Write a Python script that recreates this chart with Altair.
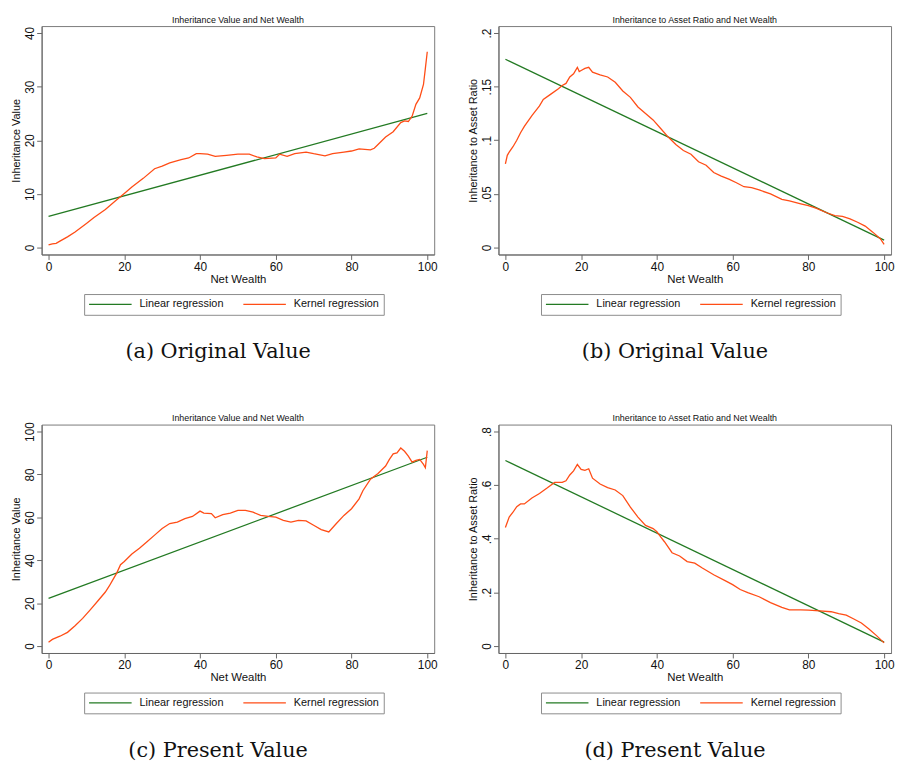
import altair as alt
import pandas as pd

# ---------------- data ----------------
# (a) Original value: inheritance value vs net wealth
kern_a_x = [0, 1, 2, 3, 5, 7, 10, 12, 15, 18, 20, 22, 25, 28, 30, 32, 35, 37, 39, 40,
            42, 44, 47, 50, 53, 55, 57, 60, 61, 63, 65, 68, 70, 73, 75, 78, 80, 82, 85, 86,
            87, 89, 91, 93, 94, 95, 96, 97, 98, 99, 99.5, 100]
kern_a_y = [0.5, 0.7, 0.8, 1.2, 2.0, 2.9, 4.5, 5.6, 7.1, 8.9, 10.1, 11.3, 12.9, 14.7, 15.2, 15.8, 16.4, 16.7, 17.5, 17.5,
            17.4, 17.0, 17.2, 17.4, 17.4, 16.9, 16.6, 16.7, 17.4, 17.0, 17.5, 17.8, 17.5, 17.1, 17.5, 17.8, 18.0, 18.4, 18.2, 18.5,
            19.2, 20.6, 21.6, 23.3, 23.6, 23.5, 24.5, 26.7, 27.9, 30.4, 33.4, 36.5]
lin_a_y = [5.8, 25.0]

# (b) Original value: inheritance to asset ratio vs net wealth
kern_b_x = [0, 0.5, 1, 2, 3, 4, 5, 7, 9, 10, 12, 14, 15, 16, 17, 18, 19, 19.5, 20, 21,
            22, 23, 25, 27, 29, 31, 33, 35, 37, 39, 41, 43, 45, 47, 49, 51, 53, 55, 57, 59,
            61, 63, 65, 67, 70, 73, 75, 78, 80, 82, 85, 87, 89, 91, 93, 95, 97, 99, 100]
kern_b_y = [0.078, 0.086, 0.089, 0.094, 0.100, 0.107, 0.113, 0.123, 0.132, 0.138, 0.143, 0.148, 0.151, 0.153, 0.159, 0.162, 0.168, 0.164, 0.165, 0.167,
            0.168, 0.1635, 0.161, 0.159, 0.154, 0.146, 0.140, 0.131, 0.125, 0.119, 0.111, 0.103, 0.096, 0.0905, 0.087, 0.080, 0.0767, 0.070, 0.0666, 0.0638,
            0.0604, 0.0567, 0.0558, 0.0537, 0.050, 0.045, 0.0436, 0.0408, 0.039, 0.0368, 0.0322, 0.0298, 0.0291, 0.0267, 0.0236, 0.020, 0.0144, 0.0083, 0.003]
lin_b_y = [0.1755, 0.007]

# (c) Present value: inheritance value vs net wealth
kern_c_x = [0, 1, 3, 5, 7, 9, 11, 13, 15, 16, 17, 18, 19, 20, 22, 24, 26, 28, 30, 32,
            34, 36, 38, 40, 41, 43, 44, 46, 48, 50, 52, 54, 56, 58, 60, 62, 64, 66, 68, 70,
            72, 74, 76, 78, 80, 82, 83, 85, 87, 89, 90, 91, 92, 93, 94, 95, 96, 97, 98, 99, 99.5, 100]
kern_c_y = [1.8, 3.1, 4.6, 6.4, 9.5, 12.9, 16.9, 21.0, 25.2, 27.9, 31.0, 34.0, 37.9, 39.4, 42.9, 45.6, 48.6, 51.7, 54.8, 57.1,
            57.8, 59.4, 60.4, 62.9, 62.0, 61.7, 59.8, 61.3, 62.0, 63.2, 63.2, 62.4, 60.9, 60.4, 60.1, 58.6, 57.8, 58.6, 58.3, 56.3,
            54.3, 53.2, 57.1, 60.9, 64.0, 68.6, 72.4, 77.8, 80.4, 83.9, 87.0, 89.6, 90.0, 92.3, 90.8, 88.5, 85.7, 86.5, 87.0, 84.7, 83.1, 91.1]
lin_c_y = [22.2, 88.0]

# (d) Present value: inheritance to asset ratio vs net wealth
kern_d_x = [0, 1, 2, 3, 4, 5, 7, 9, 11, 13, 15, 16, 17, 18, 19, 20, 21, 22, 23, 25,
            27, 29, 31, 33, 35, 37, 39, 40, 41, 42, 44, 46, 48, 50, 52, 55, 58, 60, 62, 64,
            67, 70, 73, 75, 78, 80, 83, 86, 88, 90, 92, 94, 96, 98, 100]
kern_d_y = [0.442, 0.481, 0.499, 0.520, 0.530, 0.530, 0.552, 0.569, 0.589, 0.610, 0.610, 0.616, 0.638, 0.653, 0.677, 0.659, 0.655, 0.661, 0.626, 0.604,
            0.591, 0.582, 0.561, 0.518, 0.481, 0.450, 0.438, 0.426, 0.407, 0.389, 0.348, 0.336, 0.315, 0.309, 0.291, 0.266, 0.244, 0.229, 0.211, 0.199,
            0.184, 0.162, 0.144, 0.135, 0.135, 0.134, 0.131, 0.128, 0.121, 0.115, 0.101, 0.086, 0.064, 0.039, 0.012]
lin_d_y = [0.692, 0.0147]

lin_x = [0, 100]
x_ticks = [0, 20, 40, 60, 80, 100]
series_names = ["Linear regression", "Kernel regression"]
series_colors = ["#237a23", "#ff4d16"]

# ---------------- styling ----------------
W, H = 397, 231
SANS = "Liberation Sans"
SERIF = "DejaVu Serif"


def panel(kx, ky, ly, yticks, ytitle, title, caption, ratio):
    ymin, ymax = yticks[0], yticks[-1]
    ypad = (ymax - ymin) * 7.0 / 217.0
    lin_df = pd.DataFrame({"x": lin_x, "y": ly, "series": series_names[0]})
    ker_df = pd.DataFrame({"x": kx, "y": ky, "series": series_names[1]})

    xenc = alt.X(
        "x:Q",
        scale=alt.Scale(domain=[-1.83, 101.83], nice=False, zero=False),
        axis=alt.Axis(values=x_ticks, title="Net Wealth", format="d"),
    )
    if ratio:
        lab = "datum.value == 0 ? '0' : replace(format(datum.value, '.2~f'), '0.', '.')"
    else:
        lab = "format(datum.value, 'd')"
    yenc = alt.Y(
        "y:Q",
        scale=alt.Scale(domain=[ymin - ypad, ymax + ypad], nice=False, zero=False),
        axis=alt.Axis(values=yticks, title=ytitle, labelExpr=lab,
                      labelAngle=270, labelAlign="center", labelBaseline="alphabetic",
                      labelPadding=3),
    )
    color = alt.Color(
        "series:N",
        scale=alt.Scale(domain=series_names, range=series_colors),
        title=None,
        legend=alt.Legend(
            orient="none", legendX=43, legendY=271, direction="horizontal",
            symbolType="stroke", symbolSize=1850, symbolStrokeWidth=1.3,
            clipHeight=13,
            labelFont=SANS, labelFontSize=11, labelColor="#111", labelOffset=7,
            labelLimit=300, columnPadding=19, padding=4,
            strokeColor="#8c8c8c", fillColor="white",
        ),
    )
    lin = alt.Chart(lin_df).mark_line(strokeWidth=1.3).encode(x=xenc, y=yenc, color=color)
    ker = alt.Chart(ker_df).mark_line(strokeWidth=1.3).encode(x=xenc, y=yenc, color=color)

    t_df = pd.DataFrame({"t": [title]})
    ttl = alt.Chart(t_df).mark_text(font=SANS, fontSize=9, color="#111",
                                    baseline="alphabetic", align="center").encode(
        x=alt.value(W / 2), y=alt.value(-3.5), text="t:N")
    c_df = pd.DataFrame({"t": [caption]})
    cap = alt.Chart(c_df).mark_text(font=SERIF, fontSize=21, color="#111",
                                    baseline="middle", align="center").encode(
        x=alt.value(W / 2 - 20), y=alt.value(330), text="t:N")
    return alt.layer(lin, ker, ttl, cap).properties(width=W, height=H)


pa = panel(kern_a_x, kern_a_y, lin_a_y, [0, 10, 20, 30, 40], "Inheritance Value",
           "Inheritance Value and Net Wealth", "(a) Original Value", False)
pb = panel(kern_b_x, kern_b_y, lin_b_y, [0, 0.05, 0.1, 0.15, 0.2], "Inheritance to Asset Ratio",
           "Inheritance to Asset Ratio and Net Wealth", "(b) Original Value", True)
pc = panel(kern_c_x, kern_c_y, lin_c_y, [0, 20, 40, 60, 80, 100], "Inheritance Value",
           "Inheritance Value and Net Wealth", "(c) Present Value", False)
pd_ = panel(kern_d_x, kern_d_y, lin_d_y, [0, 0.2, 0.4, 0.6, 0.8], "Inheritance to Asset Ratio",
            "Inheritance to Asset Ratio and Net Wealth", "(d) Present Value", True)

chart = alt.concat(
    pa, pb, pc, pd_, columns=2, spacing={"row": 172, "column": 65}, bounds="flush"
).resolve_scale(
    x="independent", y="independent", color="independent"
).resolve_legend(
    color="independent"
).properties(
    padding={"left": 2, "top": 3, "right": 0, "bottom": 0}
).configure_view(
    stroke="#7a7a7a", strokeWidth=1
).configure_axis(
    grid=False,
    domainColor="#666", domainWidth=1,
    tickColor="#666", tickSize=5, tickWidth=1,
    labelFont=SANS, labelFontSize=12, labelColor="#111",
    titleFont=SANS, titleFontSize=11.5, titleFontWeight="normal", titleColor="#111",
).configure_axisX(
    labelPadding=2, titlePadding=1
).configure_axisY(
    titlePadding=2, titleFontSize=11
)

chart.save("out.html", embed_options={"renderer": "svg", "actions": False})
